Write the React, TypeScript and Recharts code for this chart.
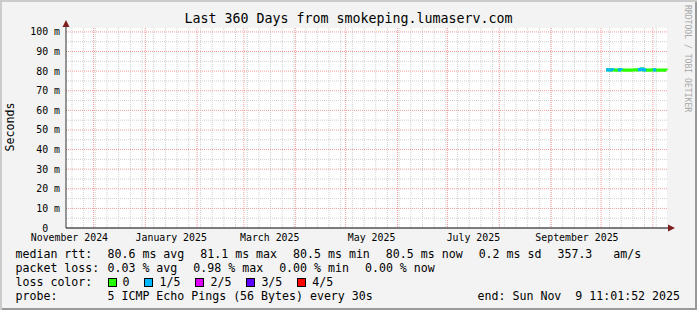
import { ComposedChart, Line, XAxis, YAxis, CartesianGrid, ReferenceDot } from "recharts";

const graphStart = "2024-11-14T11:01:52+01:00";
const graphEnd = "2025-11-09T11:01:52+01:00";
const firstSample = "2025-10-04T00:00:00+01:00";
const firstMonday = "2024-11-18T00:00:00+01:00";

// daily median rtt (ms) and lost pings out of 5
const medianMs = [
  80.7, 80.6, 80.6, 80.7, 80.6, 80.6, 80.5, 80.6, 80.7, 80.6, 80.6, 80.5, 80.6,
  80.6, 80.5, 80.6, 80.6, 80.7, 80.6, 80.7, 80.8, 81.1, 80.7, 80.6, 80.6, 80.5,
  80.6, 80.6, 80.7, 80.6, 80.6, 80.5, 80.6, 80.6, 80.5, 80.6, 80.5,
];
const lossPings = [
  1, 1, 1, 1, 1, 0, 0, 1, 1, 1, 0, 0, 0, 0, 0, 0, 0, 0, 0, 1, 1, 1, 1, 1, 1, 0,
  0, 0, 1, 1, 1, 0, 0, 0, 0, 0, 0,
];

const monthLabels = ["November 2024", "January 2025", "March 2025", "May 2025", "July 2025", "September 2025"];
const monthLabelDates = [
  "2024-11-16T12:00:00+01:00",
  "2025-01-16T12:00:00+01:00",
  "2025-03-16T12:00:00+01:00",
  "2025-05-16T12:00:00+01:00",
  "2025-07-16T12:00:00+01:00",
  "2025-09-16T12:00:00+01:00",
];
const monthStarts = [
  "2024-12-01", "2025-01-01", "2025-02-01", "2025-03-01", "2025-04-01", "2025-05-01",
  "2025-06-01", "2025-07-01", "2025-08-01", "2025-09-01", "2025-10-01", "2025-11-01",
];
const yTicks = [0, 10, 20, 30, 40, 50, 60, 70, 80, 90, 100];
const yMinor = [5, 15, 25, 35, 45, 55, 65, 75, 85, 95];
const yMax = 102;

const lossLabels = ["0", "1/5", "2/5", "3/5", "4/5"];
const lossColors = ["#26ff00", "#00b8ff", "#dd00ff", "#5e00ff", "#ff0000"];

const DAY = 86400000;
const t = (s: string) => new Date(s).getTime();
const x0 = t(graphStart);
const x1 = t(graphEnd);

const mondays: number[] = [];
for (let m = t(firstMonday); m < x1; m += 7 * DAY) mondays.push(m);
const monthStartTs = monthStarts.map((d) => t(d + "T00:00:00+01:00"));
const labelTs = monthLabelDates.map(t);

const levels = lossLabels.map((_, i) => i).filter((l) => l > 0 && lossPings.includes(l));
const rows = medianMs.map((v, i) => {
  const row: Record<string, number | null> = { t: t(firstSample) + i * DAY, median: v };
  levels.forEach((l) => {
    row["loss" + l] = lossPings[i] === l ? v : null;
  });
  return row;
});

const mono = "'DejaVu Sans Mono', monospace";
const arrowColor = "#7f1f1f";

function UpArrow(p: any) {
  const { cx, cy } = p;
  return (
    <g>
      <line x1={cx} y1={cy} x2={cx} y2={cy - 2} stroke="#333" />
      <polygon points={`${cx - 3.5},${cy - 1} ${cx + 3.5},${cy - 1} ${cx},${cy - 8}`} fill={arrowColor} />
    </g>
  );
}

function RightArrow(p: any) {
  const { cx, cy } = p;
  return (
    <g>
      <line x1={cx} y1={cy} x2={cx + 2} y2={cy} stroke="#000" />
      <polygon points={`${cx + 1},${cy - 3.5} ${cx + 1},${cy + 3.5} ${cx + 8},${cy}`} fill={arrowColor} />
    </g>
  );
}

const rowStyle: React.CSSProperties = { display: "flex", alignItems: "center", height: 14, gap: 16, whiteSpace: "pre" };
const firstCol: React.CSSProperties = { width: 76, flexShrink: 0, overflow: "visible" };

export default function App() {
  const labelFor = (v: number) => monthLabels[labelTs.indexOf(v)] ?? "";
  return (
    <div
      style={{
        position: "absolute",
        left: 0,
        top: 0,
        width: 697,
        height: 310,
        background: "#f3f3f3",
        boxShadow: "inset 2px 2px 0 #cbcbcb, inset -2px -2px 0 #999999",
        fontFamily: mono,
        color: "#000",
      }}
    >
      <ComposedChart width={697} height={310} data={rows} margin={{ top: 28, right: 30, bottom: 62, left: 0 }}>
        <CartesianGrid
          fill="#ffffff"
          stroke="#d0d0d0"
          strokeDasharray="1 1"
          horizontalValues={yMinor}
          verticalValues={mondays}
        />
        <CartesianGrid
          stroke="#f29a9a"
          strokeDasharray="1 1"
          horizontalValues={yTicks.filter((v) => v > 0)}
          verticalValues={monthStartTs}
        />
        <XAxis
          dataKey="t"
          type="number"
          scale="time"
          domain={[x0, x1]}
          ticks={labelTs}
          interval={0}
          tickFormatter={labelFor}
          tickLine={false}
          tickSize={4}
          tickMargin={2}
          height={20}
          axisLine={{ stroke: "#000" }}
          tick={{ fontFamily: mono, fontSize: 9.9, fill: "#000" }}
        />
        <YAxis
          type="number"
          domain={[0, yMax]}
          ticks={yTicks}
          interval={0}
          width={66}
          tickLine={false}
          tickSize={4}
          tickMargin={2}
          tickFormatter={(v: number) => (v === 0 ? "0\u00a0\u00a0" : `${v} m`)}
          axisLine={{ stroke: "#333" }}
          tick={{ fontFamily: mono, fontSize: 9.9, fill: "#000" }}
        />
        <Line
          dataKey="median"
          type="stepAfter"
          stroke={lossColors[0]}
          strokeWidth={3}
          dot={false}
          isAnimationActive={false}
        />
        {levels.map((l) => (
          <Line
            key={l}
            dataKey={"loss" + l}
            type="stepAfter"
            stroke={lossColors[l]}
            strokeWidth={3}
            dot={false}
            connectNulls={false}
            isAnimationActive={false}
          />
        ))}
        <ReferenceDot x={x0} y={yMax} r={0} ifOverflow="visible" shape={UpArrow} />
        <ReferenceDot x={x1} y={0} r={0} ifOverflow="visible" shape={RightArrow} />
      </ComposedChart>

      <div style={{ position: "absolute", left: 0, top: 11, width: 697, textAlign: "center", fontSize: 13.3, lineHeight: "16px" }}>
        Last 360 Days from smokeping.lumaserv.com
      </div>
      <div
        style={{
          position: "absolute",
          left: -20,
          top: 120,
          width: 60,
          height: 14,
          lineHeight: "14px",
          textAlign: "center",
          fontSize: 11.6,
          transform: "rotate(-90deg)",
        }}
      >
        Seconds
      </div>
      <div
        style={{
          position: "absolute",
          left: 683,
          top: 5,
          writingMode: "vertical-rl",
          fontSize: 8.1,
          lineHeight: "9px",
          color: "#a8a8a8",
          whiteSpace: "pre",
        }}
      >
        RRDTOOL / TOBI OETIKER
      </div>

      <div style={{ position: "absolute", left: 15.5, top: 247, width: 664.5, fontSize: 11.6, lineHeight: "14px" }}>
        <div style={rowStyle}>
          <span style={firstCol}>median rtt:</span>
          <span>80.6 ms avg</span>
          <span>81.1 ms max</span>
          <span>80.5 ms min</span>
          <span>80.5 ms now</span>
          <span>0.2 ms sd</span>
          <span>357.3   am/s</span>
        </div>
        <div style={rowStyle}>
          <span style={firstCol}>packet loss:</span>
          <span>0.03 % avg</span>
          <span>0.98 % max</span>
          <span>0.00 % min</span>
          <span>0.00 % now</span>
        </div>
        <div style={{ ...rowStyle, gap: 15 }}>
          <span style={{ ...firstCol, marginRight: 1 }}>loss color:</span>
          {lossLabels.map((lab, i) => (
            <span key={lab} style={{ display: "flex", alignItems: "center" }}>
              <span
                style={{
                  display: "inline-block",
                  width: 9,
                  height: 9,
                  boxSizing: "border-box",
                  border: "1px solid #000",
                  background: lossColors[i],
                  marginRight: 6,
                }}
              />
              <span>{lab}</span>
            </span>
          ))}
        </div>
        <div style={rowStyle}>
          <span style={firstCol}>probe:</span>
          <span>5 ICMP Echo Pings (56 Bytes) every 30s</span>
          <span style={{ marginLeft: "auto" }}>end: Sun Nov  9 11:01:52 2025</span>
        </div>
      </div>
    </div>
  );
}
